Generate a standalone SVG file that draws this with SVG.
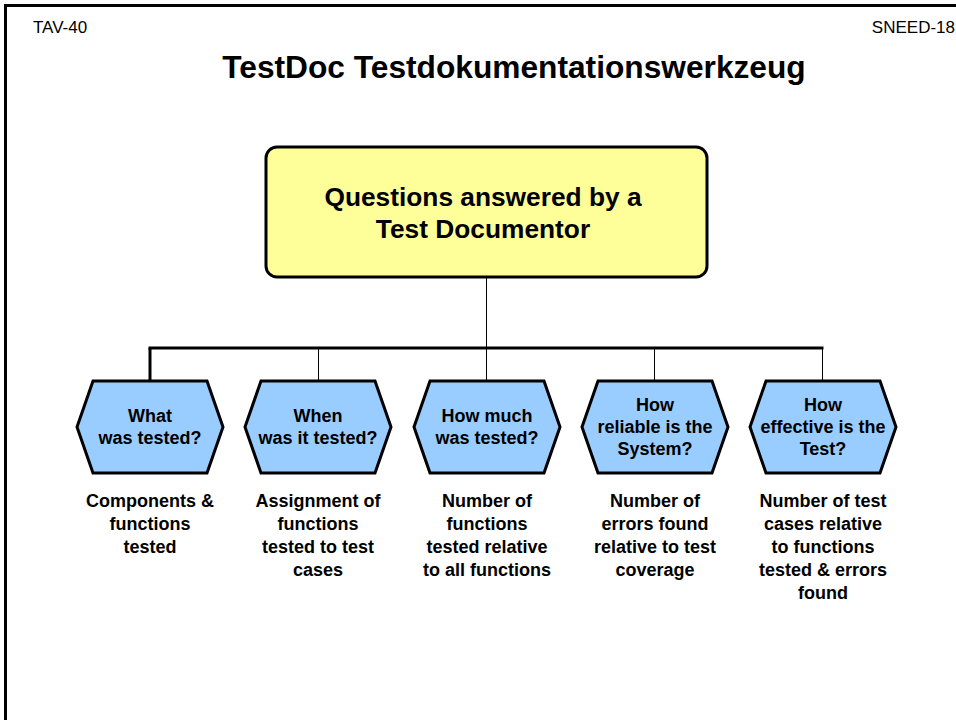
<svg xmlns="http://www.w3.org/2000/svg" width="956" height="720" viewBox="0 0 956 720">
<style>
  text { font-family: "Liberation Sans", Arial, sans-serif; fill: #000; }
  .hdr { font-size: 17px; }
  .title { font-size: 31.7px; font-weight: bold; }
  .main { font-size: 26.3px; font-weight: bold; text-anchor: middle; }
  .q { font-size: 18px; font-weight: bold; text-anchor: middle; }
  .d { font-size: 18px; font-weight: bold; text-anchor: middle; }
  .hex { fill: #99CCFF; stroke: #000; stroke-width: 3; stroke-linejoin: miter; }
  .box { fill: #FFFF99; stroke: #000; stroke-width: 3; }
  .thin { stroke: #000; stroke-width: 1; fill: none; }
  .thick { stroke: #000; stroke-width: 3; fill: none; }
</style>
<rect width="956" height="720" fill="#fff"/>
<path d="M5.5 720 V5.5 H956" fill="none" stroke="#000" stroke-width="3"/>
<text class="hdr" x="33" y="33">TAV-40</text>
<text class="hdr" x="955" y="33" text-anchor="end">SNEED-18</text>
<text class="title" x="514" y="78" text-anchor="middle">TestDoc Testdokumentationswerkzeug</text>

<g id="connectors">
  <line class="thin" x1="486.5" y1="277" x2="486.5" y2="348"/>
  <line class="thick" x1="148.5" y1="348" x2="823.5" y2="348"/>
  <line class="thick" x1="150" y1="348" x2="150" y2="381"/>
  <line class="thin" x1="318.5" y1="348" x2="318.5" y2="381"/>
  <line class="thin" x1="486.5" y1="348" x2="486.5" y2="381"/>
  <line class="thin" x1="654.5" y1="348" x2="654.5" y2="381"/>
  <line class="thin" x1="822.5" y1="348" x2="822.5" y2="381"/>
</g>

<g id="root">
  <rect class="box" x="266" y="147" width="441" height="130" rx="11"/>
  <text class="main" x="483" y="206">Questions answered by a</text>
  <text class="main" x="483" y="238">Test Documentor</text>
</g>

<g id="n1">
  <polygon class="hex" points="77,427 93,381 207,381 223,427 207,473 93,473"/>
  <text class="q" x="150" y="422">What</text>
  <text class="q" x="150" y="444">was tested?</text>
  <text class="d" x="150" y="507">Components &amp;</text>
  <text class="d" x="150" y="530">functions</text>
  <text class="d" x="150" y="553">tested</text>
</g>

<g id="n2">
  <polygon class="hex" points="245,427 261,381 375,381 391,427 375,473 261,473"/>
  <text class="q" x="318" y="422">When</text>
  <text class="q" x="318" y="444">was it tested?</text>
  <text class="d" x="318" y="507">Assignment of</text>
  <text class="d" x="318" y="530">functions</text>
  <text class="d" x="318" y="553">tested to test</text>
  <text class="d" x="318" y="576">cases</text>
</g>

<g id="n3">
  <polygon class="hex" points="414,427 430,381 544,381 560,427 544,473 430,473"/>
  <text class="q" x="487" y="422">How much</text>
  <text class="q" x="487" y="444">was tested?</text>
  <text class="d" x="487" y="507">Number of</text>
  <text class="d" x="487" y="530">functions</text>
  <text class="d" x="487" y="553">tested relative</text>
  <text class="d" x="487" y="576">to all functions</text>
</g>

<g id="n4">
  <polygon class="hex" points="582,427 598,381 712,381 728,427 712,473 598,473"/>
  <text class="q" x="655" y="411">How</text>
  <text class="q" x="655" y="433">reliable is the</text>
  <text class="q" x="655" y="455">System?</text>
  <text class="d" x="655" y="507">Number of</text>
  <text class="d" x="655" y="530">errors found</text>
  <text class="d" x="655" y="553">relative to test</text>
  <text class="d" x="655" y="576">coverage</text>
</g>

<g id="n5">
  <polygon class="hex" points="750,427 766,381 880,381 896,427 880,473 766,473"/>
  <text class="q" x="823" y="411">How</text>
  <text class="q" x="823" y="433">effective is the</text>
  <text class="q" x="823" y="455">Test?</text>
  <text class="d" x="823" y="507">Number of test</text>
  <text class="d" x="823" y="530">cases relative</text>
  <text class="d" x="823" y="553">to functions</text>
  <text class="d" x="823" y="576">tested &amp; errors</text>
  <text class="d" x="823" y="599">found</text>
</g>
</svg>
